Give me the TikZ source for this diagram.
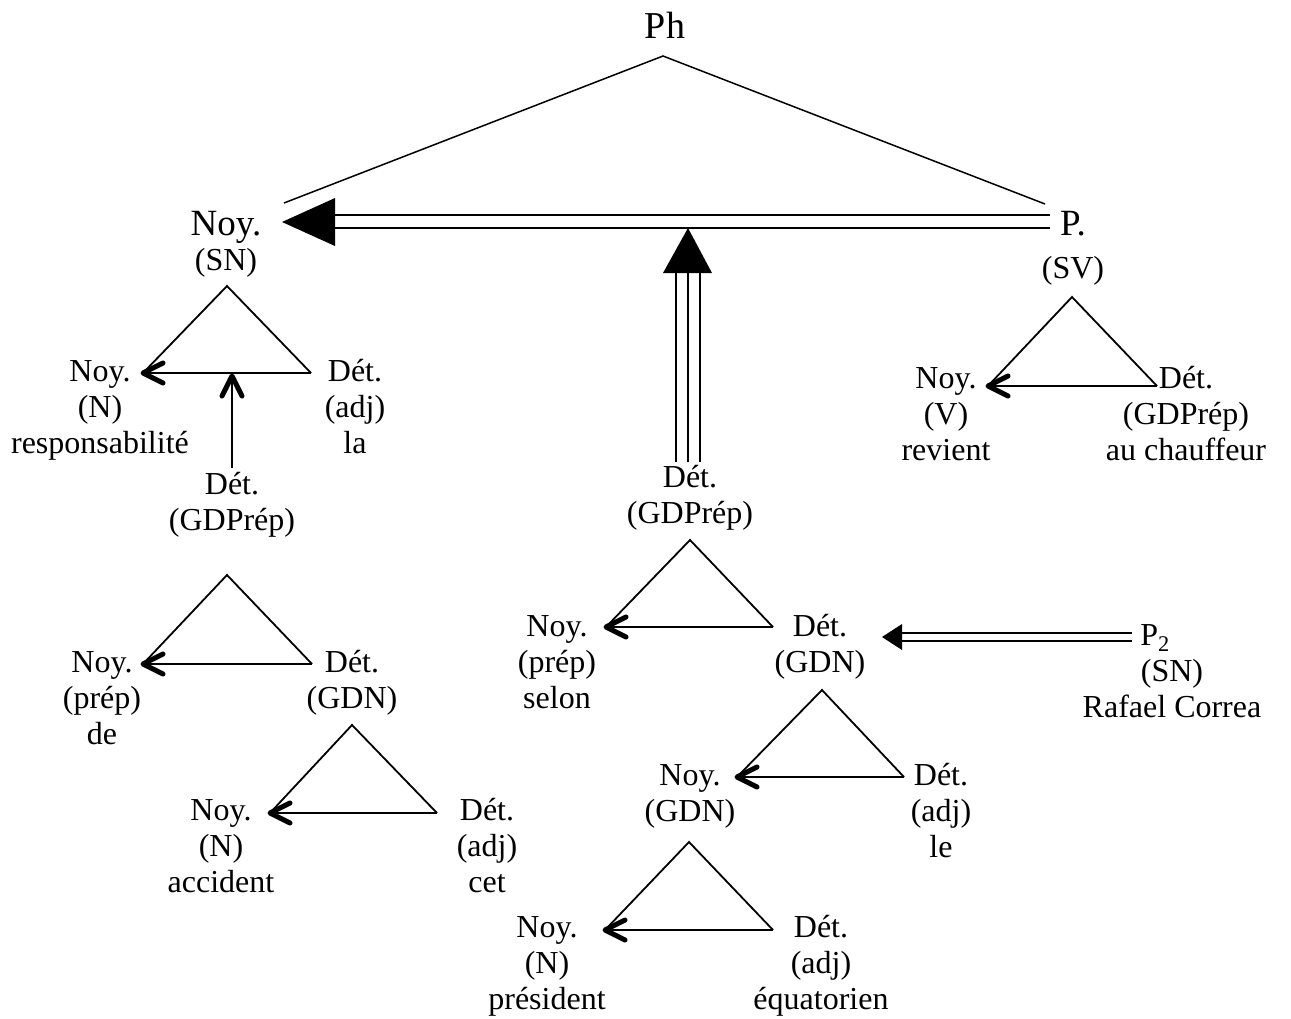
\documentclass[tikz,border=0pt]{standalone}
\usepackage{fontspec}
\setmainfont{Liberation Serif}
\usetikzlibrary{calc}
% stacked, centred lines; the baseline is that of the first line
\newcommand\stack[1]{\begin{tabular}[t]{@{}c@{}}#1\end{tabular}}
\begin{document}
\begin{tikzpicture}[x=1pt,y=-1pt,
  lbl/.style={inner sep=0pt, anchor=base, font=\fontsize{32}{36}\selectfont},
  edge/.style={line width=1.8pt, line join=miter},
  roof/.style={line width=1.5pt},
  shaft/.style={line width=2pt},
  barb/.style={line width=5pt, line cap=round, line join=round},
  rail/.style={line width=1.8pt},
  thinrail/.style={line width=1.5pt}]

\useasboundingbox (0,0) rectangle (1291,1018);

% ---------- labels ----------
\node[lbl, font=\fontsize{38}{40}\selectfont] (ph) at (665,38) {Ph};
\node[lbl] (sn) at (226,235) {\stack{{\fontsize{37}{36}\selectfont Noy.}\\[-1pt](SN)}};
\node[lbl] (sv) at (1073,235) {\stack{{\fontsize{37}{36}\selectfont P.}\\[7pt](SV)}};

\node[lbl] (resp) at (100,381) {\stack{Noy.\\(N)\\responsabilité}};
\node[lbl] (la)   at (355,381) {\stack{Dét.\\(adj)\\la}};
\node[lbl] (gdprepL) at (232,494) {\stack{Dét.\\(GDPrép)}};
\node[lbl] (de)   at (102,672) {\stack{Noy.\\(prép)\\de}};
\node[lbl] (gdnL) at (352,672) {\stack{Dét.\\(GDN)}};
\node[lbl] (acc)  at (221,820) {\stack{Noy.\\(N)\\accident}};
\node[lbl] (cet)  at (487,820) {\stack{Dét.\\(adj)\\cet}};

\node[lbl] (gdprepM) at (690,487) {\stack{Dét.\\(GDPrép)}};
\node[lbl] (selon) at (557,636) {\stack{Noy.\\(prép)\\selon}};
\node[lbl] (gdnM)  at (820,636) {\stack{Dét.\\(GDN)}};
\node[lbl] (rc)    at (1172,645) {\stack{P\textsubscript{2}\hspace*{34pt}\\(SN)\\Rafael Correa}};
\node[lbl] (gdnN)  at (690,785) {\stack{Noy.\\(GDN)}};
\node[lbl] (le)    at (941,785) {\stack{Dét.\\(adj)\\le}};
\node[lbl] (pres)  at (547,937) {\stack{Noy.\\(N)\\président}};
\node[lbl] (equa)  at (821,937) {\stack{Dét.\\(adj)\\équatorien}};

\node[lbl] (rev)   at (946,388) {\stack{Noy.\\(V)\\revient}};
\node[lbl] (chauf) at (1186,388) {\stack{Dét.\\(GDPrép)\\au chauffeur}};

% ---------- top roof ----------
\coordinate (phA) at (663,56);
\coordinate (phL) at (284,203);
\coordinate (phR) at (1045,204);
\draw[roof] (phL) -- (phA) -- (phR);

% ---------- double arrow P. -> Noy. ----------
\coordinate (dblS) at (1050,221.5);
\coordinate (dblT) at (282,222);
\draw[rail] ($(dblS)+(0,-6.5)$) -- ($(dblT)+(53,-7)$);
\draw[rail] ($(dblS)+(0,6.5)$) -- ($(dblT)+(53,6)$);
\fill (dblT) -- ++(53,-24) -- ++(0,48) -- cycle;

% ---------- triple arrow Dét. (GDPrép) -> the double arrow ----------
\coordinate (triT) at (688,228);
\coordinate (triS) at (688,462);
\foreach \dx in {-12,0,12}
  \draw[rail] ($(triS)+(\dx,0)$) -- ($(triT)+(\dx,45)$);
\fill (triT) -- ++(-25,45) -- ++(49,0) -- cycle;

% ---------- double arrow P2 -> Dét. (GDN) ----------
\coordinate (p2S) at (1132,637);
\coordinate (p2T) at (882,637);
\draw[thinrail] ($(p2S)+(0,-4)$) -- ($(p2T)+(20,-4)$);
\draw[thinrail] ($(p2S)+(0,4)$) -- ($(p2T)+(20,4)$);
\fill (p2T) -- ++(20,-13) -- ++(0,26) -- cycle;

% ---------- triangles (apex, noyau tip, determinant corner) ----------
\foreach \n/\ax/\ay/\lx/\rx/\by in {
    t1/227/286/143/311/373,
    t2/227/575/143/312/664,
    t3/352/725/270/437/813,
    t4/690/540/606/773/627,
    t5/1072/297/988/1157/386,
    t6/822/690/737/904/777,
    t7/689/842/605/773/930}{
  \coordinate (\n a) at (\ax,\ay);
  \coordinate (\n l) at (\lx,\by);
  \coordinate (\n r) at (\rx,\by);
  \draw[edge] (\n l) -- (\n a) -- (\n r);
  \draw[shaft] (\n r) -- (\n l);
  \draw[barb] ($(\n l)+(20,-10)$) -- (\n l) -- ($(\n l)+(20,10)$);
}

% ---------- Dét. (GDPrép) -> the first base ----------
\coordinate (upS) at (232,468);
\coordinate (upT) at (232,376);
\draw[shaft] (upS) -- (upT);
\draw[barb] ($(upT)+(-10,20)$) -- (upT) -- ($(upT)+(10,20)$);

\end{tikzpicture}
\end{document}
